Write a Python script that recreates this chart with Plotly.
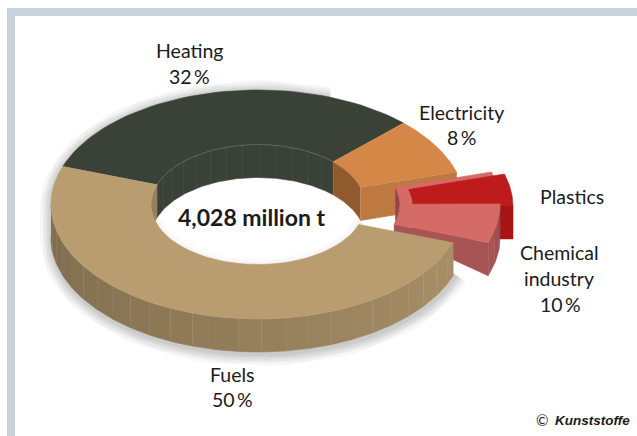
import numpy as np
import plotly.graph_objects as go

# Annual consumption shares, percent of the total
categories = ["Fuels", "Heating", "Electricity", "Chemical industry"]
shares = [50, 32, 8, 10]
plastics_share = 4.5          # part of the chemical industry slice, not labelled
total_label = "4,028 million t"

# Ring projection (pixels of the plotting area)
CX, CY = 258, 204.5
RX, RY = 207, 114.5
IX, IY = 107, 60
DEPTH = 33
START = 160.5                 # angle of the fuels / heating boundary
CHEM_SHIFT = (35, 0)
PLAST_SHIFT = (48, 2)

FRAME = "rgb(200,210,218)"
C_HEAT = "rgb(58,66,56)"
C_ELEC_TOP, C_ELEC_FACE, C_ELEC_WALL = "rgb(212,135,70)", "rgb(190,120,65)", "rgb(142,90,46)"
C_CHEM_TOP, C_CHEM_FACE, C_CHEM_WALL = "rgb(213,107,103)", "rgb(166,84,84)", "rgb(150,72,72)"
C_PLAST_TOP, C_PLAST_FACE = "rgb(190,28,28)", "rgb(168,20,20)"
C_FUEL_TOP, C_FUEL_WALL = "rgb(185,157,112)", "rgb(150,128,92)"


def arc(a0, a1, rx, ry, dx=0.0, dy=0.0, n=48):
    t = np.radians(np.linspace(a0, a1, n))
    return CX + dx + rx * np.cos(t), CY + dy - ry * np.sin(t)


fig = go.Figure()


def poly(x, y, color):
    fig.add_trace(go.Scatter(
        x=np.asarray(x), y=np.asarray(y), mode="lines", fill="toself", fillcolor=color,
        line=dict(color=color, width=0.6), hoverinfo="skip", showlegend=False))


def stroke(x, y, color, width=1.0):
    fig.add_trace(go.Scatter(
        x=np.asarray(x), y=np.asarray(y), mode="lines",
        line=dict(color=color, width=width), hoverinfo="skip", showlegend=False))


def top_face(a0, a1, color, dx=0.0, dy=0.0):
    ox, oy = arc(a0, a1, RX, RY, dx, dy)
    ix, iy = arc(a1, a0, IX, IY, dx, dy)
    poly(np.r_[ox, ix], np.r_[oy, iy], color)


def wall(a0, a1, rx, ry, color, dx=0.0, dy=0.0):
    x, y = arc(a0, a1, rx, ry, dx, dy)
    poly(np.r_[x, x[::-1]], np.r_[y, y[::-1] + DEPTH], color)


def radial_face(a, color, dx=0.0, dy=0.0, inner_depth=DEPTH):
    ox, oy = arc(a, a, RX, RY, dx, dy, n=1)
    ix, iy = arc(a, a, IX, IY, dx, dy, n=1)
    poly([ix[0], ox[0], ox[0], ix[0]],
         [iy[0], oy[0], oy[0] + DEPTH, iy[0] + inner_depth], color)


# Slice boundaries, clockwise from the fuels / heating edge
deg = {c: v * 3.6 for c, v in zip(categories, shares)}
heat_end = START - deg["Heating"]
elec_end = heat_end - deg["Electricity"]
chem_end = elec_end - deg["Chemical industry"]
plast_end = elec_end - plastics_share * 3.6

# Soft shadow below the ring
sx1, sy1 = arc(70, 180, RX, RY)
sx2, sy2 = arc(180, 342, RX, RY, dy=DEPTH)
sil_x, sil_y = np.r_[sx1, sx2], np.r_[sy1, sy2]
for w in (24, 20, 16, 13, 10, 7, 4):
    stroke(sil_x + 1, sil_y + 2, "rgba(70,75,80,0.045)", w)

# Soft shadow on the rim of the hole
hx, hy = arc(180, 345, IX, IY)
for w in (14, 10, 6, 3):
    stroke(hx, hy + 2, "rgba(70,75,80,0.025)", w)

# Heating: inner wall and top, with the faint wall seams
wall(90, START, IX, IY, C_HEAT)
wall(heat_end, 90, IX, IY, C_HEAT)
top_face(heat_end, START, C_HEAT)
ex, ey = arc(heat_end, START, IX, IY)
stroke(ex, ey, "rgba(165,172,160,0.4)", 0.7)
for a in np.arange(heat_end + 8, START - 2, 9):
    tx, ty = arc(a, a, IX, IY, n=1)
    stroke([tx[0], tx[0]], [ty[0], ty[0] + DEPTH], "rgba(165,172,160,0.18)", 0.6)

# Electricity
wall(elec_end, heat_end, IX, IY, C_ELEC_WALL)
radial_face(elec_end, C_ELEC_FACE)
top_face(elec_end, heat_end, C_ELEC_TOP)

# Chemical industry, rear part of the exploded slice
wall(plast_end, elec_end, IX, IY, C_CHEM_WALL, *CHEM_SHIFT)
top_face(plast_end, elec_end, C_CHEM_TOP, *CHEM_SHIFT)

# Plastics sits on the rear part and is pulled further out
radial_face(plast_end, C_PLAST_FACE, *PLAST_SHIFT)
top_face(plast_end, elec_end, C_PLAST_TOP, *PLAST_SHIFT)

# Chemical industry, front part
radial_face(chem_end, C_CHEM_FACE, *CHEM_SHIFT, inner_depth=8)
facets = np.linspace(chem_end, plast_end, 4)
for a0, a1, s in zip(facets[:-1], facets[1:], (0, 8, 18)):
    wall(a0, a1, RX, RY, f"rgb({166 - s},{84 - s // 2},{84 - s // 2})", *CHEM_SHIFT)
top_face(chem_end, plast_end, C_CHEM_TOP, *CHEM_SHIFT)

# Fuels: faceted outer wall shaded from dark (left) to light (right)
fuel_from = START - 360
fuel_to = fuel_from + deg["Fuels"]
wall(fuel_from, -180, IX, IY, C_FUEL_WALL)
step = 6.5
wall_end = fuel_to
seam_angles = np.arange(-180, wall_end, step)
for a0 in seam_angles:
    a1 = min(a0 + step, wall_end)
    f = ((a0 + a1) / 2 + 180) / (wall_end + 180)
    col = "rgb({:.0f},{:.0f},{:.0f})".format(124 + 44 * f, 107 + 36 * f, 76 + 27 * f)
    wall(a0, a1, RX, RY, col)
    sx, sy = arc(a1, a1, RX, RY, n=1)
    if a1 < wall_end:
        stroke([sx[0], sx[0]], [sy[0], sy[0] + DEPTH], "rgba(190,170,135,0.1)", 0.6)
top_face(fuel_from, fuel_to, C_FUEL_TOP)

# Labels
FONT = "Lato"
TEXT = "#1c1a1b"


def label(x, y, text, size=19.5, family=FONT):
    fig.add_annotation(x=x, y=y, text=text, showarrow=False, xref="x", yref="y",
                       font=dict(family=family, size=size, color=TEXT), align="center")


pct = {c: f"{v}\u2009%" for c, v in zip(categories, shares)}
label(189.5, 50, "Heating")
label(189.5, 76, pct["Heating"])
label(461.5, 112, "Electricity")
label(461.5, 137, pct["Electricity"])
label(571.5, 196, "Plastics")
label(559, 252, "Chemical")
label(559, 278, "industry")
label(560, 304, pct["Chemical industry"])
label(232, 374, "Fuels")
label(232, 399, pct["Fuels"])
label(251, 217, f"<b>{total_label}</b>", size=23)
label(542, 420, "©", size=15)
label(592, 420, "<b><i>Kunststoffe</i></b>", size=13.5, family="Liberation Sans")

fig.update_layout(
    width=637, height=436, autosize=False,
    margin=dict(l=0, r=0, t=0, b=0),
    paper_bgcolor="white", plot_bgcolor="white",
    xaxis=dict(range=[0, 637], visible=False, fixedrange=True),
    yaxis=dict(range=[436, 0], visible=False, fixedrange=True),
    shapes=[
        dict(type="rect", xref="x", yref="y", x0=7, x1=637, y0=8, y1=16,
             fillcolor=FRAME, line_width=0, layer="below"),
        dict(type="rect", xref="x", yref="y", x0=7, x1=15, y0=8, y1=436,
             fillcolor=FRAME, line_width=0, layer="below"),
    ],
)

fig.write_html("out.html", config=dict(displayModeBar=False))
